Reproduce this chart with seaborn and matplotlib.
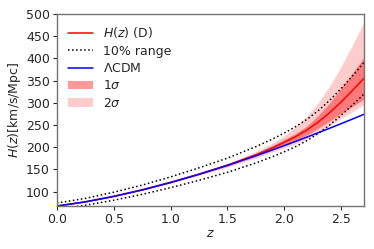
import numpy as np
import pandas as pd
import matplotlib
matplotlib.use("Agg")
import matplotlib.pyplot as plt
import seaborn as sns
from matplotlib.patches import Patch
from matplotlib.lines import Line2D

sns.set_style("ticks")
plt.rcParams["font.family"] = ["DejaVu Sans"]

z = [0.0, 0.25, 0.5, 0.75, 1.0, 1.25, 1.5, 1.75, 1.9, 2.0, 2.1, 2.2, 2.3, 2.4, 2.5, 2.6, 2.7]
h_recon = [67.7, 77.2, 89.8, 104.4, 121.2, 139.6, 159.6, 183.0, 199.0, 211.0, 224.0,
           239.0, 257.0, 278.0, 302.0, 328.0, 355.0]
h_lcdm = [67.7, 77.1, 89.2, 103.8, 120.5, 139.1, 159.3, 180.9, 194.5, 203.8, 213.2,
          223.0, 232.9, 242.9, 253.1, 263.5, 274.1]
range_hi = [74.5, 84.9, 98.8, 114.8, 133.3, 153.6, 175.6, 201.3, 218.9, 232.1, 246.4,
            262.9, 282.7, 305.8, 332.2, 360.8, 390.5]
range_lo = [60.9, 69.5, 80.8, 94.0, 109.1, 125.6, 143.6, 164.7, 179.1, 189.9, 201.6,
            215.1, 231.3, 250.2, 271.8, 295.2, 319.5]
sig1_lo = [67.7, 76.8, 89.2, 103.6, 120.2, 138.3, 157.6, 179.5, 194.0, 204.0, 215.0,
           228.0, 243.0, 259.0, 276.0, 292.0, 308.0]
sig1_hi = [67.7, 77.6, 90.4, 105.2, 122.2, 140.9, 161.6, 186.5, 204.5, 218.0, 231.0,
           248.0, 272.0, 300.0, 333.0, 367.0, 402.0]
sig2_lo = [67.7, 76.4, 88.6, 102.8, 119.2, 137.0, 155.6, 176.0, 189.5, 198.5, 208.0,
           220.0, 234.0, 249.0, 265.0, 280.0, 296.0]
sig2_hi = [67.7, 78.0, 91.0, 106.0, 123.2, 142.2, 163.6, 190.0, 210.0, 226.0, 246.0,
           271.0, 301.0, 338.0, 382.0, 430.0, 481.0]

df = pd.DataFrame({"z": z, "recon": h_recon, "lcdm": h_lcdm,
                   "hi": range_hi, "lo": range_lo})

fig = plt.figure(figsize=(3.74, 2.49), dpi=100)
ax = fig.add_axes([0.152, 0.173, 0.821, 0.771])

ax.fill_between(z, sig2_lo, sig2_hi, color="red", alpha=0.2, lw=0)
ax.fill_between(z, sig1_lo, sig1_hi, color="red", alpha=0.4, lw=0)
sns.lineplot(data=df, x="z", y="recon", color="red", lw=1.1, ax=ax)
sns.lineplot(data=df, x="z", y="hi", color="black", lw=1.1, ls=":", ax=ax)
sns.lineplot(data=df, x="z", y="lo", color="black", lw=1.1, ls=":", ax=ax)
sns.lineplot(data=df, x="z", y="lcdm", color="blue", lw=1.1, ax=ax)

ax.set_xlim(0, 2.7)
ax.set_ylim(68, 500)
ax.set_xticks([0.0, 0.5, 1.0, 1.5, 2.0, 2.5])
ax.set_yticks(range(100, 501, 50))
ax.set_xlabel(r"$z$", fontsize=9, labelpad=1)
ax.set_ylabel(r"$H(z)$[km/s/Mpc]", fontsize=9, labelpad=2)
ax.tick_params(labelsize=9, length=3, width=0.8, pad=2)
for s in ax.spines.values():
    s.set_color("0.45")
    s.set_linewidth(1.0)

handles = [
    Line2D([], [], color="red", lw=1.1),
    Line2D([], [], color="black", lw=1.1, ls=":"),
    Line2D([], [], color="blue", lw=1.1),
    Patch(facecolor="red", alpha=0.4, lw=0),
    Patch(facecolor="red", alpha=0.2, lw=0),
]
labels = [r"$H(z)$ (D)", "10% range", r"$\Lambda$CDM", r"$1\sigma$", r"$2\sigma$"]
ax.legend(handles, labels, loc="upper left", frameon=False, fontsize=9,
          handlelength=2.0, labelspacing=0.35, borderaxespad=0.5)

fig.savefig("out.png", dpi=100)
